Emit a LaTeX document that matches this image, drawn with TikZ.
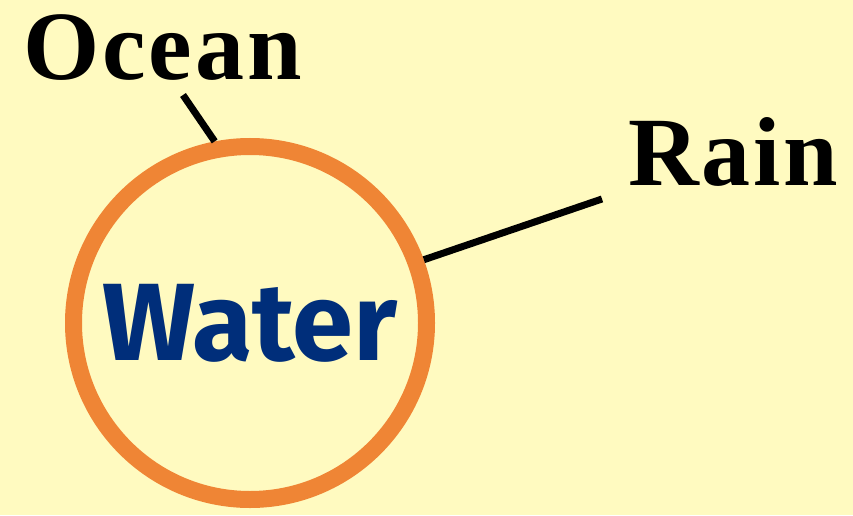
\documentclass[tikz,border=0pt]{standalone}
\usepackage{fontspec}
\newfontfamily\labelfont[LetterSpace=3]{Liberation Serif}
\newfontfamily\waterfont{Fira Sans}
\definecolor{paper}{RGB}{255,250,192}
\definecolor{ringorange}{RGB}{239,133,53}
\definecolor{waterblue}{RGB}{0,46,122}
\begin{document}
\begin{tikzpicture}[x=1pt,y=1pt,
    ring/.style={circle,draw=ringorange,line width=17pt,inner sep=0pt,
      minimum size=353pt,text=waterblue,
      font=\waterfont\bfseries\fontsize{110}{110}\selectfont},
    tag/.style={anchor=base west,inner sep=0pt,
      font=\labelfont\bfseries\fontsize{98}{98}\selectfont},
    link/.style={line width=7pt,black}]
      \fill[paper] (0,0) rectangle (853,515);
      \useasboundingbox (0,0) rectangle (853,515);
      % circle and labels
      \node[ring] (water) at (250,192){Water};
      \node[tag] (ocean) at (23,435){Ocean};
      \node[tag] (rain) at (628,330){Rain};
      \coordinate (oceanend) at (183,420);
      \coordinate (rainend) at (602,316);
      % connectors
      \draw[link] (oceanend)--(water.101);
      \draw[link] (rainend)--(water.20);
    \end{tikzpicture}
\end{document}
